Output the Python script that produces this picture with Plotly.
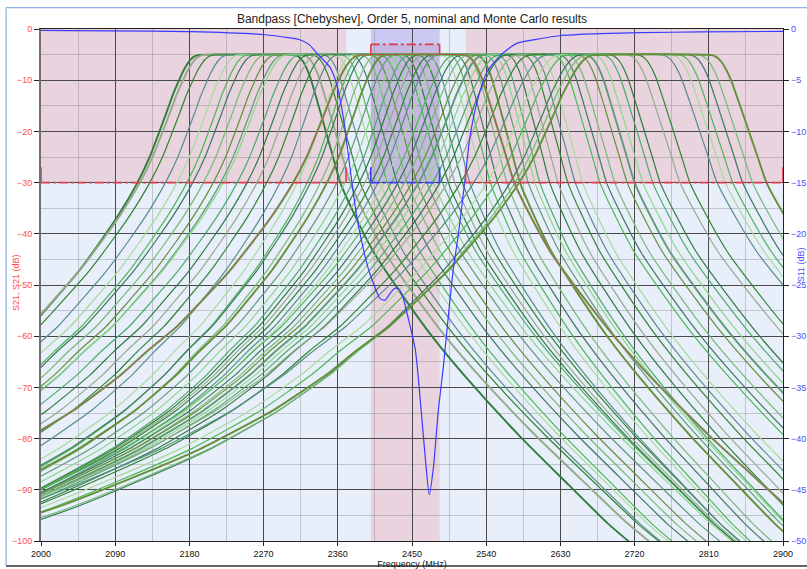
import numpy as np
import plotly.graph_objects as go

# ---------------- data ----------------
# Monte Carlo S21 curves: frequency (MHz) where each curve crosses -30 dB on its lower / upper skirt
mc_cross_lo = [2117, 2120, 2132, 2151, 2165, 2177, 2184, 2197, 2209, 2218, 2221, 2238, 2250,
               2262, 2274, 2290, 2311, 2323, 2327, 2339, 2347, 2359, 2369, 2378, 2386, 2393,
               2401, 2409, 2416, 2425, 2433, 2441, 2450, 2458, 2466, 2475, 2484, 2493, 2509,
               2525, 2541, 2552, 2569, 2575, 2580]
mc_cross_hi = [2363, 2375, 2387, 2399, 2411, 2420, 2432, 2444, 2456, 2468, 2476, 2487, 2494,
               2502, 2511, 2520, 2536, 2545, 2554, 2565, 2581, 2591, 2599, 2605, 2617, 2627,
               2639, 2648, 2657, 2678, 2686, 2696, 2711, 2720, 2730, 2742, 2751, 2775, 2787,
               2820, 2830, 2839, 2851, 2863, 2880]
# nominal S21 curve -30 dB crossings
nom_cross_lo = 2306
nom_cross_hi = 2574

# skirt shapes (offset from passband edge / bandwidth, dB)
skirt_lo_u = [0.00, 0.04, 0.08, 0.12, 0.16, 0.20, 0.26, 0.32, 0.40, 0.49, 0.62, 0.82, 1.00,
              1.23, 1.50, 1.71, 2.00, 2.24, 2.69, 3.30, 3.91, 4.52, 5.20, 5.80]
skirt_lo_db = [-5.1, -5.4, -6.1, -7.2, -8.6, -10.3, -13.0, -16.2, -20.3, -24.8, -30.0, -36.5,
               -41.5, -47.5, -53.5, -58.0, -63.0, -67.5, -74.5, -82.0, -88.0, -93.5, -98.5, -102.5]
skirt_hi_u = [0.00, 0.04, 0.08, 0.12, 0.16, 0.22, 0.30, 0.38, 0.46, 0.60, 0.80, 1.06, 1.40,
              1.77, 2.30, 2.80, 3.20, 3.60]
skirt_hi_db = [-5.1, -5.5, -6.4, -7.9, -9.9, -13.8, -19.2, -24.6, -30.0, -36.0, -43.5, -51.0,
               -60.0, -68.5, -79.5, -89.0, -96.5, -103.0]

# nominal S11 (right axis)
s11_freq = [2000, 2181, 2272, 2300, 2314, 2325, 2335, 2351, 2359, 2367, 2375, 2383, 2391, 2397,
            2403, 2411, 2417, 2422, 2428, 2433, 2439, 2445, 2454, 2460, 2466, 2471, 2476, 2482,
            2488, 2494, 2500, 2506, 2514, 2520, 2529, 2541, 2557, 2577, 2605, 2629, 2678, 2727,
            2800, 2900]
s11_db = [-0.14, -0.26, -0.56, -0.85, -1.05, -1.5, -2.4, -3.8, -5.5, -8.8, -13.7, -18.3, -21.5,
          -23.4, -24.8, -26.3, -26.5, -26.0, -25.4, -25.3, -26.2, -28.1, -31.3, -36.2, -41.8,
          -45.5, -42.8, -37.2, -33.0, -28.1, -23.5, -20.2, -14.9, -10.7, -7.1, -4.2, -2.6, -1.4,
          -0.95, -0.66, -0.46, -0.36, -0.28, -0.23]

# specification
stop_lo_edge = 2370
stop_hi_edge = 2515
pass_lo = 2400
pass_hi = 2483.5
stop_att = -30
pass_il = -3
pass_il_mark = -5
pass_rl = -15
pass_rl_mark = -13.5
stop_mark = -27

x_ticks = list(range(2000, 2901, 90))
y1_ticks = list(range(-100, 1, 10))
y2_ticks = list(range(-50, 1, 5))

# ---------------- build ----------------
lo_u30 = float(np.interp(30, [-v for v in skirt_lo_db], skirt_lo_u))
hi_u30 = float(np.interp(30, [-v for v in skirt_hi_db], skirt_hi_u))


def curve(a, b):
    bw = (b - a) / (1 + lo_u30 + hi_u30)
    L = a + lo_u30 * bw
    R = b - hi_u30 * bw
    xs = [L - u * bw for u in skirt_lo_u[::-1]] + [R + u * bw for u in skirt_hi_u]
    ys = skirt_lo_db[::-1] + skirt_hi_db
    return xs, ys


palette = ["#2f7d3b", "#4cb854", "#8ad886", "#558f86", "#64903a", "#93ab8a",
           "#3a7a5a", "#49ad66", "#a6dc9a", "#5e9c74", "#2f852f", "#74bb74"]

fig = go.Figure()

for i, (a, b) in enumerate(zip(mc_cross_lo, mc_cross_hi)):
    xs, ys = curve(a, b)
    w = 1.9 if i in (0, 1, 20, 33, 44) else 1.2
    fig.add_trace(go.Scatter(x=xs, y=ys, mode="lines", showlegend=False, hoverinfo="skip",
                             line=dict(color=palette[(i * 5) % len(palette)], width=w,
                                       shape="spline", smoothing=0.5)))

xs, ys = curve(nom_cross_lo, nom_cross_hi)
fig.add_trace(go.Scatter(x=xs, y=ys, mode="lines", showlegend=False, hoverinfo="skip",
                         line=dict(color="#6aa865", width=2.2, shape="spline", smoothing=0.5)))
fig.add_trace(go.Scatter(x=xs, y=ys, mode="lines", showlegend=False, hoverinfo="skip",
                         line=dict(color="#b0583a", width=1.0, shape="spline", smoothing=0.5)))

fig.add_trace(go.Scatter(x=s11_freq, y=s11_db, yaxis="y2", mode="lines", showlegend=False,
                         hoverinfo="skip",
                         line=dict(color="#3b3bff", width=1.2, shape="spline", smoothing=0.6)))

# background zones
PINK = "#e8d3de"
LAV = "#c9c9f2"
PURP = "#c6b6e2"
shapes = []
x0, x1 = x_ticks[0], x_ticks[-1]
for (xa, xb, ya, yb, c) in [
    (x0, stop_lo_edge, stop_att, 0, PINK),
    (stop_hi_edge, x1, stop_att, 0, PINK),
    (pass_lo, pass_hi, -100, stop_att, PINK),
    (pass_lo, pass_hi, pass_il, 0, LAV),
    (pass_lo, pass_hi, stop_att, pass_il, PURP),
]:
    shapes.append(dict(type="rect", xref="x", yref="y", x0=xa, x1=xb, y0=ya, y1=yb,
                       fillcolor=c, line=dict(width=0), layer="below"))

RED = "#e03a4a"
BLUE = "#3b3bff"
# spec lines
for (xa, xb) in [(x0, stop_lo_edge), (stop_hi_edge, x1)]:
    shapes.append(dict(type="line", xref="x", yref="y", x0=xa, x1=xb, y0=stop_att, y1=stop_att,
                       line=dict(color=RED, width=1.6, dash="dashdot"), layer="above"))
    for xv in (xa, xb):
        shapes.append(dict(type="line", xref="x", yref="y", x0=xv, x1=xv, y0=stop_att,
                           y1=stop_mark, line=dict(color=RED, width=1.6), layer="above"))
shapes.append(dict(type="line", xref="x", yref="y", x0=pass_lo, x1=pass_hi, y0=pass_il,
                   y1=pass_il, line=dict(color=RED, width=1.6, dash="dashdot"), layer="above"))
for xv in (pass_lo, pass_hi):
    shapes.append(dict(type="line", xref="x", yref="y", x0=xv, x1=xv, y0=pass_il,
                       y1=pass_il_mark, line=dict(color=RED, width=1.6), layer="above"))
shapes.append(dict(type="line", xref="x", yref="y2", x0=pass_lo, x1=pass_hi, y0=pass_rl,
                   y1=pass_rl, line=dict(color=BLUE, width=1.6, dash="dashdot"), layer="above"))
for xv in (pass_lo, pass_hi):
    shapes.append(dict(type="line", xref="x", yref="y2", x0=xv, x1=xv, y0=pass_rl,
                       y1=pass_rl_mark, line=dict(color=BLUE, width=1.6), layer="above"))

# outer frame
shapes.append(dict(type="line", xref="paper", yref="paper", x0=-0.047, x1=1.04, y0=1.0416,
                   y1=1.0416, line=dict(color="#8fb0e8", width=1.2)))
shapes.append(dict(type="line", xref="paper", yref="paper", x0=-0.047, x1=-0.047, y0=1.0416,
                   y1=-0.049, line=dict(color="#8fb0e8", width=1.2)))
shapes.append(dict(type="line", xref="paper", yref="paper", x0=-0.047, x1=1.04, y0=-0.049,
                   y1=-0.049, line=dict(color="#333333", width=1.5)))

FONT = "Liberation Sans, Arial, sans-serif"
fig.update_layout(
    width=807, height=569,
    margin=dict(l=41, r=24, t=29, b=28, autoexpand=False),
    paper_bgcolor="white",
    plot_bgcolor="#e8eefa",
    shapes=shapes,
    showlegend=False,
    title=dict(text="Bandpass [Chebyshev], Order 5, nominal and Monte Carlo results",
               x=0.5, xref="paper", y=1 - 19 / 569, yref="container", yanchor="middle",
               font=dict(family=FONT, size=12, color="#222222")),
    xaxis=dict(range=[x0, x1], tickvals=x_ticks, ticktext=[str(v) for v in x_ticks],
               showgrid=True, gridcolor="#4a4a4a", gridwidth=1, automargin=False,
               minor=dict(dtick=45, tick0=2000, showgrid=True, gridcolor="rgba(120,120,120,0.35)",
                          gridwidth=1),
               showline=True, linecolor="#222222", linewidth=1.2, mirror=True,
               ticks="outside", ticklen=4, tickcolor="#222222",
               tickfont=dict(family=FONT, size=9, color="#111111"),
               title=dict(text="Frequency (MHz)", font=dict(family=FONT, size=9, color="#111111"),
                          standoff=4),
               zeroline=False),
    yaxis=dict(range=[-100, 0], tickvals=y1_ticks, showgrid=True, gridcolor="#4a4a4a",
               gridwidth=1, automargin=False,
               minor=dict(dtick=5, tick0=0, showgrid=True, gridcolor="rgba(120,120,120,0.35)",
                          gridwidth=1),
               showline=True, linecolor="#707070", linewidth=2,
               ticks="outside", ticklen=5, tickcolor="#222222",
               tickfont=dict(family=FONT, size=9, color="#ff4d4d"), zeroline=False),
    yaxis2=dict(range=[-50, 0], tickvals=y2_ticks, overlaying="y", side="right",
                showgrid=False, showline=True, linecolor="#222222", linewidth=1.2,
                automargin=False,
                ticks="outside", ticklen=5, tickcolor="#222222",
                tickfont=dict(family=FONT, size=9, color="#4d4dff"), zeroline=False),
    annotations=[
        dict(text="S21, S21 (dB)", xref="paper", yref="paper", x=-0.043, y=0.504,
             textangle=-90, showarrow=False, font=dict(family=FONT, size=9, color="#ff4d4d")),
        dict(text="S11 (dB)", xref="paper", yref="paper", x=1.034, y=0.539,
             textangle=-90, showarrow=False, font=dict(family=FONT, size=9, color="#4d4dff")),
    ],
)

fig.write_html("out.html", config={"displayModeBar": False},
               post_script="document.body.style.margin='0px';document.body.style.overflow='hidden';")
